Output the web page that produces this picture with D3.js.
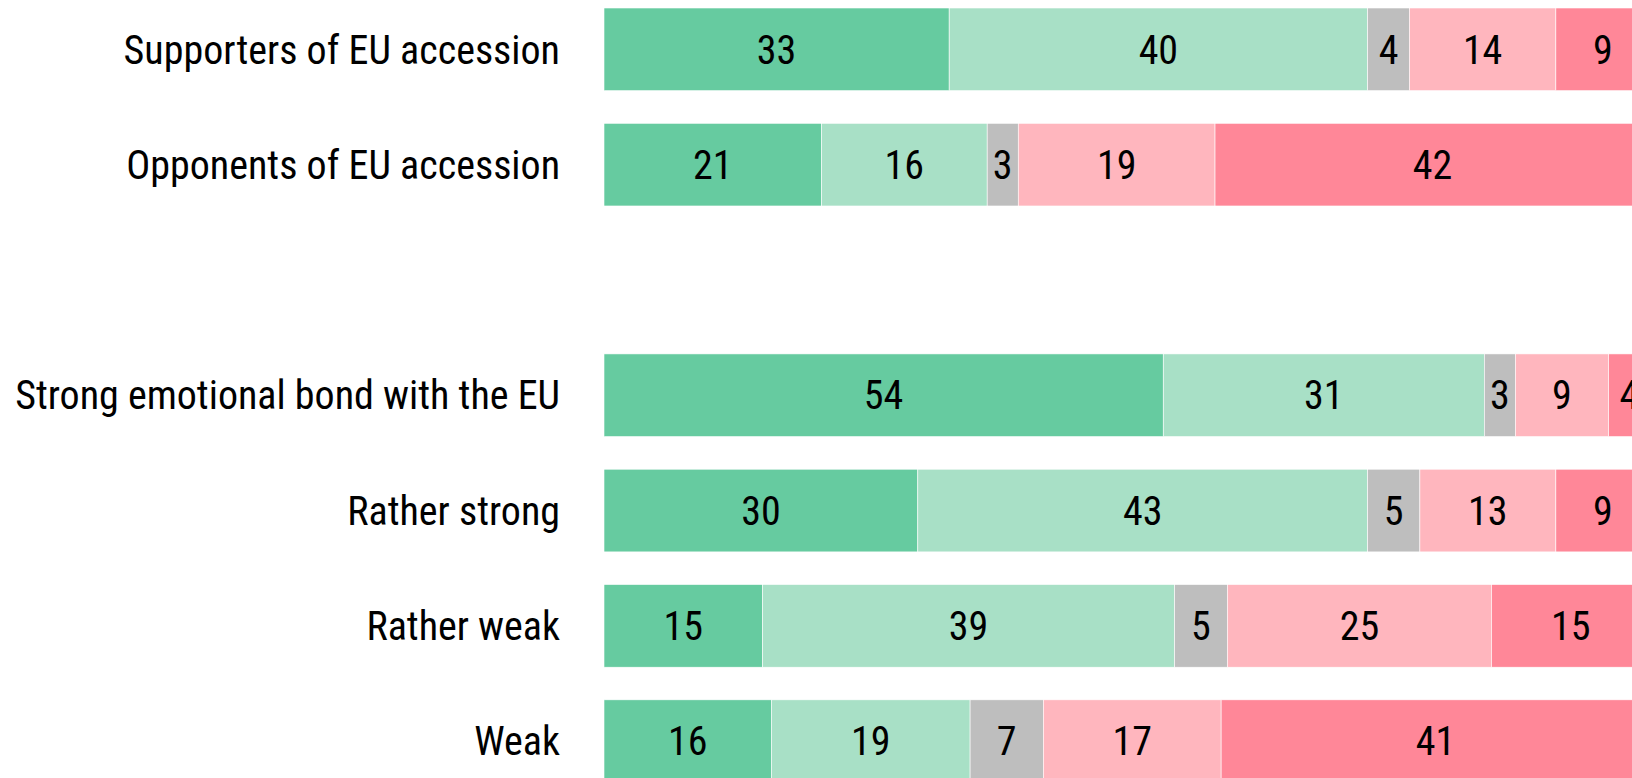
<!DOCTYPE html>
<html>
<head>
<meta charset="utf-8">
<script src="https://cdn.jsdelivr.net/npm/d3@7"></script>
<style>
  html, body { margin: 0; padding: 0; background: #fff; overflow: hidden; }
  text { font-family: "Roboto Condensed", Roboto, sans-serif; }
</style>
</head>
<body>
<div id="chart"></div>
<script>
// row labels, top to bottom ("" is the empty gap between the two groups)
var rows = ["Supporters of EU accession", "Opponents of EU accession", "",
            "Strong emotional bond with the EU", "Rather strong", "Rather weak", "Weak"];

// shares per answer, in the same order as the non-empty rows
var veryPositive = [33, 21, 54, 30, 15, 16];
var positive     = [40, 16, 31, 43, 39, 19];
var neutral      = [4, 3, 3, 5, 5, 7];
var negative     = [14, 19, 9, 13, 25, 17];
var veryNegative = [9, 42, 4, 9, 15, 41];

var keys = ["veryPositive", "positive", "neutral", "negative", "veryNegative"];
var colors = ["#66cba0", "#a8e0c6", "#bebebe", "#ffb6be", "#ff8798"];

var svgWidth = 1632;
var svgHeight = 778;
var fontSize = 40;

var labels = rows.filter(function(d) { return d !== ""; });
var table = labels.map(function(label, i) {
    return {
        label: label,
        veryPositive: veryPositive[i],
        positive: positive[i],
        neutral: neutral[i],
        negative: negative[i],
        veryNegative: veryNegative[i]
    };
});

var svg = d3.select("#chart").append("svg")
    .attr("width", svgWidth)
    .attr("height", svgHeight);

var xScale = d3.scaleLinear().domain([0, 1]).range([604, 1650]);
var yScale = d3.scaleBand().domain(rows).range([8, 782.5])
    .paddingInner(0.283).paddingOuter(0);

var stacked = d3.stack().keys(keys).offset(d3.stackOffsetExpand)(table);

var layers = svg.selectAll("g.layer")
    .data(stacked)
    .enter()
    .append("g")
    .attr("class", "layer")
    .attr("fill", function(d, i) { return colors[i]; });

layers.selectAll("rect")
    .data(function(d) { return d; })
    .enter()
    .append("rect")
    .attr("x", function(d) { return xScale(d[0]); })
    .attr("y", function(d) { return yScale(d.data.label); })
    .attr("width", function(d) { return xScale(d[1]) - xScale(d[0]); })
    .attr("height", yScale.bandwidth())
    .attr("stroke", "#fff")
    .attr("stroke-width", 0.6);

// numbers inside the segments
layers.selectAll("text")
    .data(function(d) { return d.map(function(p) { return {p: p, key: d.key}; }); })
    .enter()
    .append("text")
    .attr("x", function(d) { return (xScale(d.p[0]) + xScale(d.p[1])) / 2; })
    .attr("y", function(d) {
        return yScale(d.p.data.label) + yScale.bandwidth() / 2 + fontSize * 0.355;
    })
    .attr("text-anchor", "middle")
    .attr("fill", "#000")
    .style("font-size", fontSize + "px")
    .text(function(d) { return d.p.data[d.key]; });

// row labels
svg.append("g")
    .selectAll("text")
    .data(labels)
    .enter()
    .append("text")
    .attr("x", 560)
    .attr("y", function(d) {
        return yScale(d) + yScale.bandwidth() / 2 + fontSize * 0.355;
    })
    .attr("text-anchor", "end")
    .attr("fill", "#000")
    .style("font-size", fontSize + "px")
    .text(function(d) { return d; });
</script>
</body>
</html>
